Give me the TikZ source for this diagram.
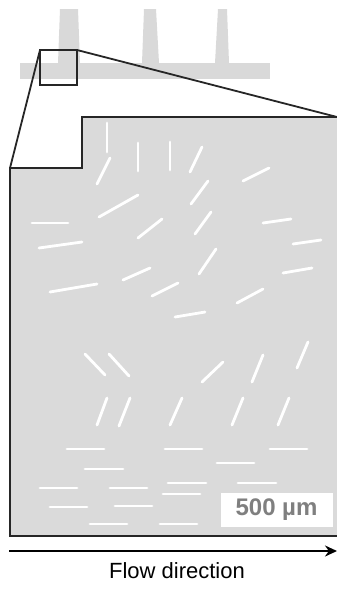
\documentclass[tikz,border=0pt]{standalone}
\usepackage{fontspec}
\setmainfont{Liberation Sans}
\usetikzlibrary{arrows.meta}
\definecolor{panelgray}{HTML}{DADADA}
\definecolor{fingray}{HTML}{D9D9D9}
\definecolor{labelgray}{HTML}{7F7F7F}
\begin{document}
\begin{tikzpicture}[x=1pt,y=-1pt,
  fiber/.style={white, line width=2.8pt, line cap=round},
  outline/.style={black!85, line width=2.1pt, line join=miter},
  zoomline/.style={black!85, line width=1.8pt},
  flowarrow/.style={black, line width=2.6pt, -{Stealth[length=12pt,width=11pt]}}]
\useasboundingbox (0,0) rectangle (337,592);
% top structure
\fill[fingray] (20,63) rectangle (270,79);
\fill[fingray] (60,9) -- (78,9) -- (80,63) -- (58,63) -- cycle;
\fill[fingray] (144,9) -- (156,9) -- (159,63) -- (142,63) -- cycle;
\fill[fingray] (218,9) -- (227,9) -- (229,63) -- (215,63) -- cycle;
% magnified panel
\coordinate (pA) at (82,117);
\coordinate (pB) at (337,117);
\coordinate (pC) at (337,536);
\coordinate (pD) at (10,536);
\coordinate (pE) at (10,168);
\coordinate (pF) at (82,168);
\fill[panelgray] (pA) -- (pB) -- (pC) -- (pD) -- (pE) -- (pF) -- cycle;
\draw[outline] (pB) -- (pA) -- (pF) -- (pE) -- (pD) -- (pC);
% zoom box and lines
\coordinate (zTL) at (40,50);
\coordinate (zBR) at (77,85);
\coordinate (zTR) at (77,50);
\draw[zoomline] (zTL) rectangle (zBR);
\draw[zoomline] (zTL) -- (pE);
\draw[zoomline] (zTR) -- (pB);
% fibers
\foreach \a/\b/\c/\d in {
  107/123/107/152, 138/143/138/171, 110/158/97/184, 138/195/99/217,
  32/223/68/223, 162/219/138/238, 39/248/82/242,
  170/142/170/170, 202/147/190/172, 269/168/243/181, 208/181/191/204,
  211/212/195/234, 291/219/263/223, 321/240/293/244, 216/249/199/274,
  50/292/97/284, 123/280/150/268, 152/296/178/283, 175/317/205/312,
  237/303/263/289, 283/273/312/268,
  85/354/105/375, 109/354/129/376, 202/382/223/362, 252/382/263/355,
  297/368/308/342,
  97/425/107/398, 119/426/130/398, 170/425/182/398, 232/425/243/398,
  278/425/289/398,
  67/449/104/449, 165/449/202/449, 270/449/307/449, 217/463/254/463,
  85/469/123/469, 40/488/77/488, 110/488/147/488, 168/483/206/483,
  238/483/276/483, 163/494/200/494, 50/507/87/507, 115/506/152/506,
  90/524/127/524, 160/524/197/524}
  \draw[fiber] (\a,\b) -- (\c,\d);
% scale bar
\node[fill=white, minimum width=112pt, minimum height=34pt, inner sep=0pt] (scalebox) at (277,510) {};
\node[text=labelgray, font=\bfseries\fontsize{24}{28}\selectfont, inner sep=0pt] (scaletext) at (276.5,510) {500 µm};
% flow arrow
\coordinate (fL) at (9,551);
\coordinate (fR) at (337,551);
\draw[flowarrow] (fL) -- (fR);
\node[font=\fontsize{22}{26}\selectfont, inner sep=0pt] (flow) at (177,571) {Flow direction};
\end{tikzpicture}
\end{document}
